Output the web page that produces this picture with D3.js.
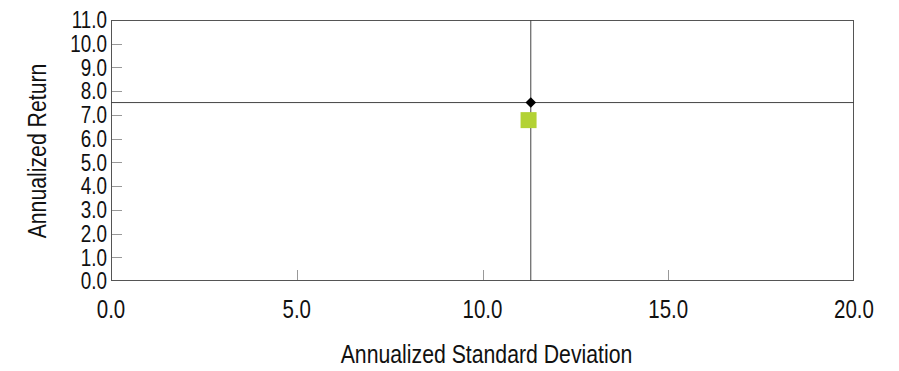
<!DOCTYPE html>
<html><head><meta charset="utf-8">
<script src="https://cdn.jsdelivr.net/npm/d3@7"></script>
<style>
body{margin:0;background:#fff;}
svg text{font-family:"Liberation Sans",Arial,sans-serif;fill:#111;}
</style></head>
<body><svg id="c" width="899" height="371"></svg>
<script>
const xTicks = [0, 5, 10, 15, 20];
const yTicks = [0,1,2,3,4,5,6,7,8,9,10,11];
const seriesNames = ["Benchmark", "Fund"];
const seriesStdDev = [11.3, 11.24];
const seriesReturn = [7.52, 6.78];
const seriesShape = ["diamond", "square"];
const seriesColor = ["#000000", "#b3d234"];
const xTitle = "Annualized Standard Deviation";
const yTitle = "Annualized Return";

const svg = d3.select("#c");
const m = {l:111, r:854, t:20, b:281};
const x = d3.scaleLinear().domain([0,20]).range([m.l, m.r]);
const y = d3.scaleLinear().domain([0,11]).range([m.b, m.t]);
const NARROW = 0.82;

// plot border
svg.append("rect").attr("x", m.l+0.5).attr("y", m.t+0.5)
  .attr("width", m.r-m.l-1).attr("height", m.b-m.t-1)
  .attr("fill","none").attr("stroke","#555").attr("stroke-width",1);

// inner ticks
svg.append("g").selectAll("line").data(yTicks.slice(1,-1)).join("line")
  .attr("x1", m.l+1).attr("x2", m.l+11)
  .attr("y1", d=>Math.round(y(d))+0.5).attr("y2", d=>Math.round(y(d))+0.5)
  .attr("stroke","#999");
svg.append("g").selectAll("line").data(xTicks.slice(1,-1)).join("line")
  .attr("y1", m.b-1).attr("y2", m.b-11)
  .attr("x1", d=>Math.round(x(d))+0.5).attr("x2", d=>Math.round(x(d))+0.5)
  .attr("stroke","#999");

// tick labels
svg.append("g").selectAll("text").data(yTicks).join("text")
  .attr("transform", d=>`translate(${m.l-4},${y(d)}) scale(${NARROW},1)`)
  .attr("dy","0.36em")
  .attr("text-anchor","end").attr("font-size","23px")
  .text(d=>d.toFixed(1));
svg.append("g").selectAll("text").data(xTicks).join("text")
  .attr("transform", d=>`translate(${x(d)},318) scale(${NARROW},1)`)
  .attr("text-anchor","middle").attr("font-size","25px")
  .text(d=>d.toFixed(1));

// titles
svg.append("text").attr("transform",`translate(${(m.l+m.r)/2+4},363) scale(0.85,1)`)
  .attr("text-anchor","middle").attr("font-size","25px").text(xTitle);
svg.append("text").attr("transform","translate(46,151) rotate(-90) scale(0.85,1)")
  .attr("text-anchor","middle").attr("font-size","25px").text(yTitle);

// crosshair lines at benchmark
svg.append("line").attr("x1", m.l).attr("x2", m.r)
  .attr("y1", y(seriesReturn[0])).attr("y2", y(seriesReturn[0]))
  .attr("stroke","#444").attr("stroke-width",1);
svg.append("line").attr("y1", m.t).attr("y2", m.b)
  .attr("x1", x(seriesStdDev[0])).attr("x2", x(seriesStdDev[0]))
  .attr("stroke","#444").attr("stroke-width",1);

// points (draw square first, then diamond)
const pts = seriesNames.map((n,i)=>({n, sx:seriesStdDev[i], r:seriesReturn[i], shape:seriesShape[i], color:seriesColor[i]}));
svg.append("g").selectAll("path").data(pts.slice().reverse()).join("path")
  .attr("transform", d=>`translate(${x(d.sx)},${y(d.r)})` + (d.shape==="diamond" ? " rotate(45)" : ""))
  .attr("d", d=> d.shape==="square"
      ? d3.symbol(d3.symbolSquare, 256)()
      : d3.symbol(d3.symbolSquare, 56)())
  .attr("fill", d=>d.color);
</script></body></html>
